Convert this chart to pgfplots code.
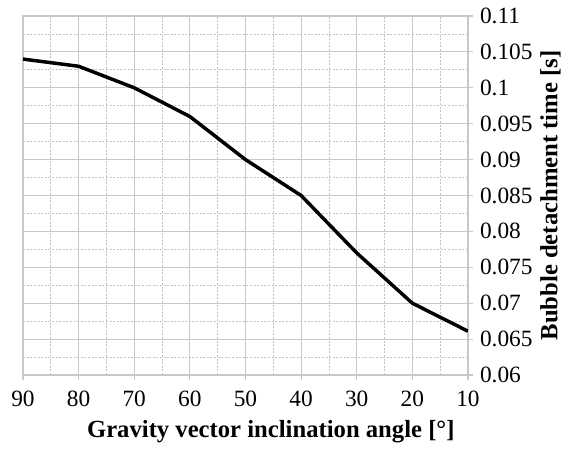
\documentclass[border=0pt]{standalone}
\usepackage{fontspec}
\setmainfont{Liberation Serif}
\usepackage{pgfplots}
\pgfplotsset{compat=1.18}

\definecolor{gridmajor}{RGB}{200,200,200}
\definecolor{gridminor}{RGB}{195,195,195}

\begin{document}
\begin{tikzpicture}
% page frame around the plot area (plot area's lower left corner at the origin)
\useasboundingbox (-17.25pt,-57pt) rectangle (406.5pt,281.25pt);
\begin{axis}[
  at={(0,0)}, anchor=south west,
  scale only axis,
  width=333.75pt, height=269.25pt,
  x dir=reverse,
  xmin=10, xmax=90, ymin=0.06, ymax=0.11,
  xtick={10,20,30,40,50,60,70,80,90},
  ytick={0.06,0.065,0.07,0.075,0.08,0.085,0.09,0.095,0.1,0.105,0.11},
  yticklabels={0.06,0.065,0.07,0.075,0.08,0.085,0.09,0.095,0.1,0.105,0.11},
  minor xtick={15,25,35,45,55,65,75,85},
  minor ytick={0.0625,0.0675,0.0725,0.0775,0.0825,0.0875,0.0925,0.0975,0.1025,0.1075},
  grid=both,
  major grid style={gridmajor, line width=0.8pt},
  minor grid style={gridminor, line width=0.6pt, dash pattern=on 1.5pt off 1.2pt},
  axis line style={gridmajor, line width=0.8pt},
  yticklabel pos=right,
  ylabel near ticks,
  tick align=outside,
  xtick pos=bottom, ytick pos=right,
  major tick length=4pt, minor tick length=0pt,
  tick style={gridmajor, line width=0.8pt},
  /pgf/number format/assume math mode=true,
  ticklabel style={font=\fontsize{17.5}{19}\selectfont},
  xticklabel style={yshift=-4.5pt},
  yticklabel style={xshift=1.5pt},
  label style={font=\fontsize{18.5}{21}\selectfont\bfseries},
  xlabel={Gravity vector inclination angle [°]},
  ylabel={Bubble detachment time [s]},
  xlabel style={xshift=19pt, yshift=-3pt},
  ylabel style={yshift=1pt},
]
\addplot[black, line width=2.6pt] coordinates {
  (90,0.1040) (80,0.1030) (70,0.1000) (60,0.0960) (50,0.0900)
  (40,0.0850) (35,0.0810) (30,0.0770) (20,0.0700) (10,0.0661)
};
\end{axis}
\end{tikzpicture}
\end{document}
